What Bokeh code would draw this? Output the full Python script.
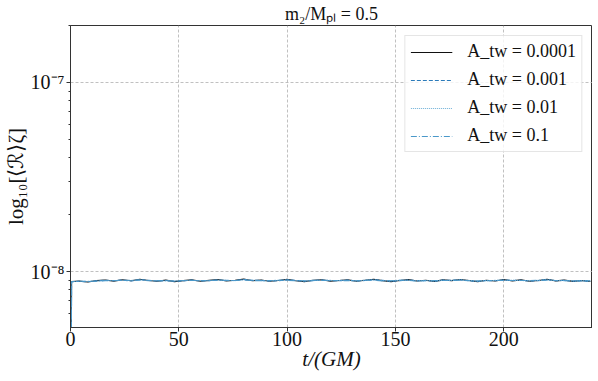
from bokeh.plotting import figure
from bokeh.models import FixedTicker, CustomJSTickFormatter, Legend, LegendItem, Range1d
from bokeh.embed import file_html
from bokeh.resources import INLINE

# ---- data (values in units of 1e-9) ----
t = [0, 0.5] + list(range(4, 241, 4))

r_0001 = [0.3, 8.86,
          8.90, 8.80, 8.95, 9.02, 8.90, 9.05, 8.94, 9.10, 8.96, 8.88,
          9.01, 8.85, 8.95, 9.04, 8.88, 8.98, 9.08, 8.93, 8.99, 9.12,
          8.94, 9.03, 8.88, 8.97, 9.09, 8.94, 8.85, 8.99, 9.05, 8.90,
          8.97, 9.04, 8.88, 8.99, 9.10, 8.95, 8.85, 8.97, 9.06, 8.91,
          8.99, 8.87, 9.04, 8.95, 9.08, 8.97, 8.85, 8.99, 8.91, 9.06,
          8.93, 9.04, 8.88, 8.97, 9.10, 8.93, 9.01, 8.87, 8.97, 8.86]
r_001 = [0.3, 8.84,
         8.87, 8.84, 8.93, 8.99, 8.95, 9.01, 8.92, 9.06, 8.99, 8.91,
         8.97, 8.88, 8.92, 9.01, 8.92, 8.95, 9.03, 8.97, 8.96, 9.08,
         8.98, 8.98, 8.91, 8.95, 9.05, 8.98, 8.89, 8.96, 9.03, 8.94,
         8.95, 9.01, 8.93, 8.96, 9.06, 8.98, 8.89, 8.95, 9.03, 8.94,
         8.97, 8.90, 9.01, 8.98, 9.04, 8.94, 8.88, 8.96, 8.94, 9.03,
         8.97, 9.00, 8.91, 8.95, 9.06, 8.95, 8.98, 8.90, 8.94, 8.89]
r_01 = [0.3, 8.85,
        8.89, 8.86, 8.91, 8.97, 8.93, 8.99, 8.96, 9.04, 8.97, 8.93,
        8.95, 8.90, 8.96, 8.99, 8.94, 8.97, 9.01, 8.95, 8.95, 9.05,
        8.99, 8.96, 8.93, 8.98, 9.02, 8.95, 8.91, 8.95, 9.00, 8.96,
        8.97, 8.98, 8.91, 8.99, 9.03, 8.95, 8.92, 8.98, 9.00, 8.92,
        8.95, 8.92, 8.99, 8.96, 9.02, 8.97, 8.90, 8.95, 8.97, 9.00,
        8.98, 8.97, 8.93, 8.98, 9.03, 8.97, 8.96, 8.92, 8.93, 8.92]
r_1 = [0.3, 8.83,
       8.88, 8.89, 8.90, 8.95, 8.97, 8.96, 8.98, 9.02, 8.94, 8.96,
       8.93, 8.92, 8.97, 8.96, 8.97, 8.95, 8.99, 8.98, 8.97, 9.03,
       8.96, 8.95, 8.96, 9.00, 8.99, 8.93, 8.94, 8.98, 8.97, 8.98,
       8.95, 8.96, 8.94, 9.01, 9.00, 8.93, 8.94, 9.00, 8.97, 8.91,
       8.94, 8.95, 8.96, 8.98, 8.99, 8.95, 8.92, 8.94, 8.98, 8.97,
       8.96, 8.96, 8.96, 9.00, 9.01, 8.96, 8.95, 8.94, 8.92, 8.94]

labels = ["A_tw = 0.0001", "A_tw = 0.001", "A_tw = 0.01", "A_tw = 0.1"]
series = [r_0001, r_001, r_01, r_1]
colors = ["#111111", "#2b7bba", "#6baed6", "#4a98c9"]
dashes = ["solid", "4 2", "1 1", "6 2 1 2"]

major_y = [1e-8, 1e-7]
minor_y = [6e-9, 7e-9, 8e-9, 9e-9, 2e-8, 3e-8, 4e-8, 5e-8, 6e-8, 7e-8, 8e-8, 9e-8, 2e-7]
x_ticks = [0, 50, 100, 150, 200]

FONT = "Liberation Serif"

p = figure(width=592, height=373, output_backend="svg", toolbar_location=None,
           y_axis_type="log", x_range=Range1d(0, 241), y_range=Range1d(5.06e-9, 2.0e-7),
           title="m\u2082/M\u209a\u2097 = 0.5",
           min_border_left=63, min_border_right=0, min_border_bottom=0, min_border_top=0)

items = []
for s, lab, c, d in zip(series, labels, colors, dashes):
    y = [v * 1e-9 for v in s]
    r = p.line(t, y, line_color=c, line_width=1.1, line_dash=d)
    items.append(LegendItem(label=lab, renderers=[r]))

p.title.align = "center"
p.title.text_font = FONT
p.title.text_font_size = "18px"
p.title.text_font_style = "normal"
p.title.text_color = "#111111"
p.title.standoff = 3

p.xaxis.ticker = FixedTicker(ticks=x_ticks)
p.yaxis.ticker = FixedTicker(ticks=major_y, minor_ticks=minor_y)
p.yaxis.formatter = CustomJSTickFormatter(code="""
const e = Math.round(Math.log10(tick));
const sup = {"-":"\u207b","0":"\u2070","1":"\u00b9","2":"\u00b2","3":"\u00b3","4":"\u2074","5":"\u2075","6":"\u2076","7":"\u2077","8":"\u2078","9":"\u2079"};
return "10" + String(e).split("").map(c => sup[c]).join("");
""")

p.xaxis.axis_label = "t/(GM)"
p.yaxis.axis_label = "log\u2081\u2080[\u27e8\u211b\u27e9\u03b6]"
for ax in [p.xaxis[0], p.yaxis[0]]:
    ax.axis_label_text_font = FONT
    ax.axis_label_text_font_size = "21px"
    ax.axis_label_text_color = "#111111"
    ax.major_label_text_font = FONT
    ax.major_label_text_font_size = "20px"
    ax.major_label_text_color = "#111111"
    ax.axis_line_color = "#333333"
    ax.major_tick_line_color = "#333333"
    ax.minor_tick_line_color = "#333333"
    ax.major_tick_out = 4
    ax.major_tick_in = 0
    ax.minor_tick_out = 2
    ax.minor_tick_in = 0
    ax.axis_label_standoff = 0
    ax.major_label_standoff = 2
p.xaxis[0].axis_label_standoff = -2
p.xaxis[0].major_label_standoff = 0
p.xaxis[0].axis_label_text_font_style = "italic"
p.yaxis[0].axis_label_text_font_style = "normal"

p.outline_line_color = "#333333"
p.outline_line_width = 1

p.xgrid.grid_line_color = "#b0b0b0"
p.ygrid.grid_line_color = "#b0b0b0"
p.xgrid.grid_line_dash = "3 2"
p.ygrid.grid_line_dash = "3 2"
p.xgrid.grid_line_width = 0.8
p.ygrid.grid_line_width = 0.8

legend = Legend(items=items, location="top_right")
legend.label_text_font = FONT
legend.label_text_font_size = "18px"
legend.label_text_color = "#111111"
legend.glyph_width = 42
legend.glyph_height = 20
legend.label_height = 20
legend.spacing = 7
legend.padding = 5
legend.margin = 10
legend.label_standoff = 15
legend.border_line_color = "#cccccc"
legend.background_fill_alpha = 0.8
p.add_layout(legend)

open("out.html", "w").write(file_html(p, INLINE))
